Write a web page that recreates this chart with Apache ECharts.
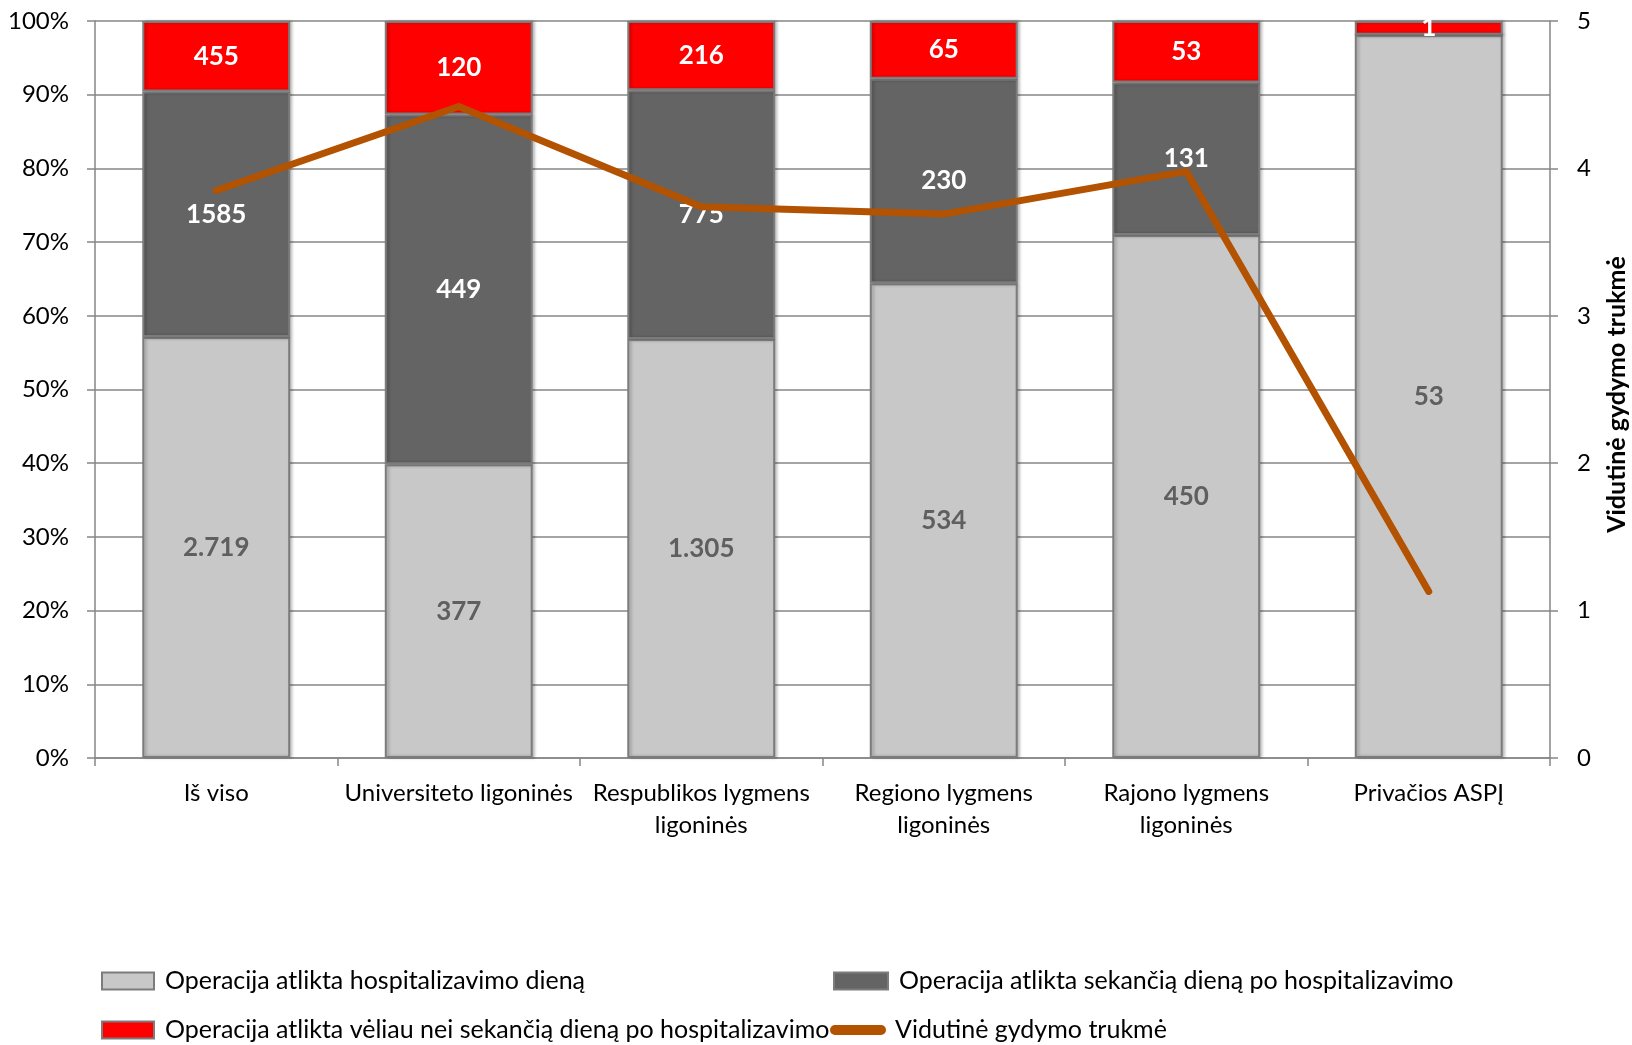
<!DOCTYPE html>
<html>
<head>
<meta charset="utf-8">
<script src="https://cdn.jsdelivr.net/npm/echarts@6/dist/echarts.min.js"></script>
<style>
  html, body { margin: 0; padding: 0; background: #ffffff; }
  #chart { width: 1632px; height: 1045px; }
</style>
</head>
<body>
<div id="chart"></div>
<script>
// Hospital groups
const categories = [
  'Iš viso',
  'Universiteto ligoninės',
  'Respublikos lygmens\nligoninės',
  'Regiono lygmens\nligoninės',
  'Rajono lygmens\nligoninės',
  'Privačios ASPĮ'
];

// Number of operations by timing (counts shown on the bars)
const sameDay   = [2719, 377, 1305, 534, 450, 53];
const nextDay   = [1585, 449, 775, 230, 131, 0];
const laterDay  = [455, 120, 216, 65, 53, 1];

// Average length of treatment, days (right axis)
const avgStay   = [3.85, 4.42, 3.74, 3.69, 3.98, 1.13];

const seriesNames = [
  'Operacija atlikta hospitalizavimo dieną',
  'Operacija atlikta sekančią dieną po hospitalizavimo',
  'Operacija atlikta vėliau nei sekančią dieną po hospitalizavimo',
  'Vidutinė gydymo trukmė'
];

const leftTicks = { min: 0, max: 100, interval: 10 };
const rightTicks = { min: 0, max: 5, interval: 1 };

// Share of each group's total, in percent
const totals = sameDay.map((v, i) => v + nextDay[i] + laterDay[i]);
const share = arr => arr.map((v, i) => v / totals[i] * 100);

function fmtCount(v, dotted) {
  if (!v) return '';
  let s = String(v);
  if (dotted) s = s.replace(/\B(?=(\d{3})+(?!\d))/g, '.');
  return s;
}

const FONT = 'Lato, "Open Sans", sans-serif';
const GRID_COLOR = '#868686';
const BORDER = '#7c7c7c';
const TEXT_SIZE = 24;

function barSeries(name, counts, color, labelColor, dotted) {
  return {
    name: name,
    type: 'bar',
    stack: 'ops',
    yAxisIndex: 0,
    barWidth: '61%',
    data: share(counts),
    itemStyle: {
      color: color,
      borderColor: BORDER,
      borderWidth: 2,
      shadowColor: 'rgba(0,0,0,0.25)',
      shadowBlur: 3,
      shadowOffsetX: 2
    },
    label: {
      show: true,
      position: 'inside',
      color: labelColor,
      fontFamily: FONT,
      fontWeight: 'bold',
      fontSize: 26,
      formatter: p => fmtCount(counts[p.dataIndex], dotted)
    },
    emphasis: { disabled: true }
  };
}

const legendText = { fontFamily: FONT, fontSize: 25, lineHeight: 28, color: '#000', padding: [0, 0, 0, 6] };
const legendBase = {
  orient: 'horizontal',
  padding: 0,
  itemWidth: 52,
  itemHeight: 17,
  icon: 'rect',
  textStyle: legendText,
  selectedMode: false
};

const option = {
  backgroundColor: '#ffffff',
  animation: false,
  grid: { left: 95, right: 82, top: 21, bottom: 287, containLabel: false, outerBoundsMode: 'none' },
  legend: [
    Object.assign({}, legendBase, { left: 101, top: 967, data: [seriesNames[0]] }),
    Object.assign({}, legendBase, { left: 833, top: 967, itemWidth: 54, data: [seriesNames[1]] }),
    Object.assign({}, legendBase, { left: 101, top: 1016, data: [seriesNames[2]] }),
    Object.assign({}, legendBase, {
      left: 830, top: 1016, itemWidth: 56, itemHeight: 10,
      icon: 'path://M5,0 L51,0 A5,5 0 0 1 51,10 L5,10 A5,5 0 0 1 5,0 Z',
      textStyle: Object.assign({}, legendText, { padding: [0, 0, 0, 4] }),
      data: [seriesNames[3]]
    })
  ],
  xAxis: {
    type: 'category',
    data: categories,
    axisLine: { show: true, lineStyle: { color: GRID_COLOR, width: 1.5 } },
    axisTick: { show: true, length: 8, alignWithLabel: false, lineStyle: { color: GRID_COLOR, width: 1.5 } },
    axisLabel: {
      interval: 0,
      margin: 19,
      color: '#000',
      fontFamily: FONT,
      fontSize: TEXT_SIZE,
      lineHeight: 32
    }
  },
  yAxis: [
    {
      type: 'value',
      min: leftTicks.min, max: leftTicks.max, interval: leftTicks.interval,
      axisLine: { show: true, lineStyle: { color: GRID_COLOR, width: 1.5 } },
      axisTick: { show: true, length: 8, lineStyle: { color: GRID_COLOR, width: 1.5 } },
      splitLine: { show: true, lineStyle: { color: GRID_COLOR, width: 1.5 } },
      axisLabel: {
        margin: 26,
        color: '#000',
        fontFamily: FONT,
        fontSize: TEXT_SIZE,
        formatter: '{value}%'
      }
    },
    {
      type: 'value',
      position: 'right',
      min: rightTicks.min, max: rightTicks.max, interval: rightTicks.interval,
      name: seriesNames[3],
      nameLocation: 'middle',
      nameRotate: 90,
      nameGap: 54,
      nameTextStyle: { fontFamily: FONT, fontSize: 25, fontWeight: 'bold', color: '#000', padding: [0, 10, 0, 0] },
      axisLine: { show: true, lineStyle: { color: GRID_COLOR, width: 1.5 } },
      axisTick: { show: true, length: 8, lineStyle: { color: GRID_COLOR, width: 1.5 } },
      splitLine: { show: false },
      axisLabel: {
        margin: 27,
        color: '#000',
        fontFamily: FONT,
        fontSize: TEXT_SIZE
      }
    }
  ],
  series: [
    barSeries(seriesNames[0], sameDay, '#c8c8c8', '#5f5f5f', true),
    barSeries(seriesNames[1], nextDay, '#646464', '#ffffff', false),
    barSeries(seriesNames[2], laterDay, '#ff0000', '#ffffff', false),
    {
      name: seriesNames[3],
      type: 'line',
      yAxisIndex: 1,
      data: avgStay,
      symbol: 'none',
      z: 10,
      itemStyle: { color: '#b35200' },
      lineStyle: { color: '#b35200', width: 7, cap: 'round', join: 'round' },
      emphasis: { disabled: true }
    }
  ]
};

const chart = echarts.init(document.getElementById('chart'), null, { renderer: 'canvas' });
chart.setOption(option);
</script>
</body>
</html>
